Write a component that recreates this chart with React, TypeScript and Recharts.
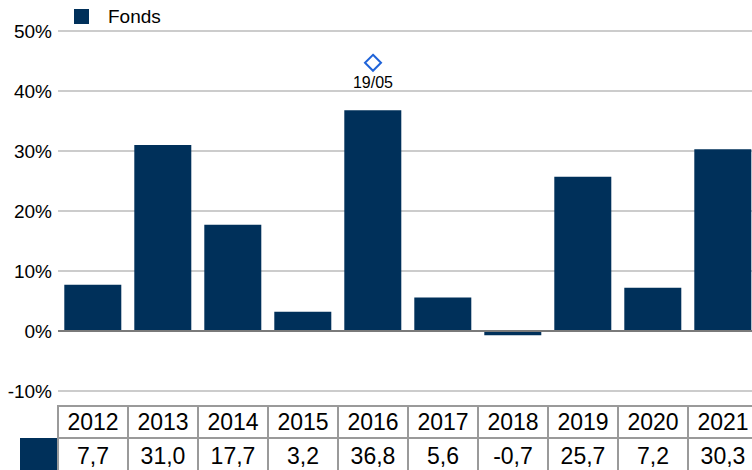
import React from 'react';
import { ComposedChart, Bar, XAxis, YAxis, CartesianGrid, ReferenceLine, ReferenceDot } from 'recharts';

const years = ['2012', '2013', '2014', '2015', '2016', '2017', '2018', '2019', '2020', '2021'];
const fondsValues = [7.7, 31.0, 17.7, 3.2, 36.8, 5.6, -0.7, 25.7, 7.2, 30.3];
const yTicks = [-10, 0, 10, 20, 30, 40, 50];
const seriesName = 'Fonds';
const markerYear = '2016';
const markerValue = 44.7;
const markerLabel = '19/05';

const NAVY = '#00305a';
const FONT = '"Liberation Sans", Arial, sans-serif';

const data = years.map((y, i) => ({ year: y, fonds: fondsValues[i] }));

const fmt = (v: number) => v.toFixed(1).replace('.', ',');

const CHART_H = 470;
const AXIS_H = 79;
const PLOT_BOTTOM = CHART_H - AXIS_H;

const TableTick = (props: any) => {
  const { x, payload, index } = props;
  const band = 70;
  const top = PLOT_BOTTOM + 15;
  const rowH = 32;
  const left = x - band / 2;
  return (
    <g>
      {index === 0 && <rect x={left - 38} y={top + rowH} width={38} height={40} fill={NAVY} />}
      <rect x={left} y={top} width={band} height={rowH} fill="#fff" stroke="#9a9a9a" strokeWidth={2} />
      <rect x={left} y={top + rowH} width={band} height={40} fill="#fff" stroke="#9a9a9a" strokeWidth={2} />
      <text x={x} y={top + rowH / 2} textAnchor="middle" dominantBaseline="central" fontSize={23} fontFamily={FONT} fill="#000">
        {payload.value}
      </text>
      <text x={x} y={top + rowH + 18} textAnchor="middle" dominantBaseline="central" fontSize={23} fontFamily={FONT} fill="#000">
        {fmt(fondsValues[index])}
      </text>
    </g>
  );
};

const Diamond = (props: any) => {
  const { cx, cy } = props;
  const s = 8;
  return (
    <g>
      <path d={`M${cx},${cy - s} L${cx + s},${cy} L${cx},${cy + s} L${cx - s},${cy} Z`} fill="#fff" stroke="#1f63d8" strokeWidth={2} />
      <text x={cx} y={cy + 20} textAnchor="middle" dominantBaseline="central" fontSize={16} fontFamily={FONT} fill="#000">
        {markerLabel}
      </text>
    </g>
  );
};

export default function App() {
  return (
    <div style={{ position: 'fixed', left: 0, top: 0, width: 752, height: 470, overflow: 'hidden', background: '#fff', fontFamily: FONT }}>
      <ComposedChart width={760} height={CHART_H} data={data} margin={{ top: 31, right: 2, bottom: 0, left: 0 }} barCategoryGap="9%">
        <CartesianGrid horizontal vertical={false} stroke="#cccccc" strokeWidth={2} />
        <XAxis dataKey="year" axisLine={false} tickLine={false} interval={0} height={AXIS_H} tick={<TableTick />} />
        <YAxis
          width={58}
          domain={[-10, 50]}
          ticks={yTicks}
          axisLine={false}
          tickLine={false}
          tickSize={0}
          tickMargin={6}
          tickFormatter={(v: number) => `${v}%`}
          tick={{ fontSize: 19, fontFamily: FONT, fill: '#000' }}
        />
        <Bar dataKey="fonds" name={seriesName} fill={NAVY} isAnimationActive={false} />
        <ReferenceLine y={0} stroke="#7a7a7a" strokeWidth={2} />
        <ReferenceDot x={markerYear} y={markerValue} r={8} shape={<Diamond />} ifOverflow="visible" />
      </ComposedChart>
      <div style={{ position: 'absolute', left: 74, top: 9, width: 15, height: 15, background: NAVY }} />
      <div style={{ position: 'absolute', left: 108, top: 5, fontSize: 19, lineHeight: '24px', color: '#000' }}>{seriesName}</div>
    </div>
  );
}
